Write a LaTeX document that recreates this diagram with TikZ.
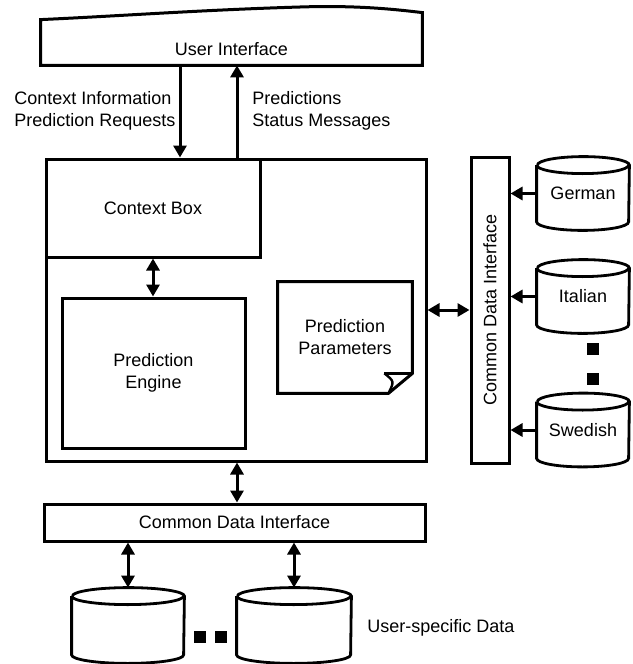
\documentclass[tikz,border=0pt]{standalone}
\usepackage{fontspec}
\setmainfont{Liberation Sans}
\usetikzlibrary{arrows.meta}
\tikzset{
  box/.style={draw,line width=1.5pt,inner sep=0pt},
  db/.style={inner sep=0pt},
  dbline/.style={line width=1.4pt},
  arr/.style={line width=1.5pt,-{Triangle[length=6pt,width=6.5pt]}},
  darr/.style={line width=1.5pt,{Triangle[length=6pt,width=6.5pt]}-{Triangle[length=6pt,width=6.5pt]}},
  blk/.style={fill,minimum size=6pt,inner sep=0pt}
}
\newcommand\drawdb[2]{%
  \draw[dbline] ([yshift=-4.25pt]#1.north west) -- ([yshift=4.25pt]#1.south west)
    arc[start angle=180,end angle=360,x radius=#2,y radius=4.25pt]
    -- ([yshift=-4.25pt]#1.north east)
    arc[start angle=0,end angle=180,x radius=#2,y radius=4.25pt];
  \draw[dbline] ([yshift=-4.25pt]#1.north west)
    arc[start angle=180,end angle=360,x radius=#2,y radius=4.25pt];}
\begin{document}
\begin{tikzpicture}[x=0.5pt,y=-0.5pt,font=\fontsize{9}{11}\selectfont]
\useasboundingbox (0,0) rectangle (632,664);
\node[inner sep=0pt,minimum width=190.5pt,minimum height=16pt] (ui) at (231.5,49) {User Interface};
\draw[line width=1.5pt] (ui.south west) -- ([yshift=6.5pt]ui.north west)
  .. controls (120,16) and (200,10) .. (300,7)
  .. controls (360,5) and (400,10) .. ([yshift=10pt]ui.north east) -- (ui.south east) -- cycle;
\node[box,minimum width=190pt,minimum height=151pt] (main) at (236,310) {};
\node[box,minimum width=107pt,minimum height=49pt] (ctx) at (153,208) {Context Box};
\node[box,minimum width=91.5pt,minimum height=75pt,align=center] (engine) at (153.5,373) {Prediction\\Engine};
\node[inner sep=0pt,minimum width=67pt,minimum height=55.5pt,align=center] (params) at (345,337.5) {Prediction\\Parameters};
\draw[line width=1.5pt] (params.north west) -- (params.north east) -- ([yshift=10pt]params.south east)
  -- ([xshift=-12pt]params.south east) -- (params.south west) -- cycle;
\draw[line width=1.2pt] ([xshift=-14pt,yshift=10pt]params.south east) -- ([yshift=10pt]params.south east);
\draw[line width=1.2pt] ([xshift=-14pt,yshift=10pt]params.south east)
  .. controls ([xshift=-9pt,yshift=6pt]params.south east) .. ([xshift=-12pt]params.south east);
\node[box,rotate=90,minimum width=153pt,minimum height=19pt] (cdiR) at (490,310) {Common Data Interface};
\node[db,minimum width=46pt,minimum height=36.5pt] (german) at (583,193.5) {German};
\node[db,minimum width=46pt,minimum height=36.5pt] (italian) at (583,296.5) {Italian};
\node[db,minimum width=46pt,minimum height=36.5pt] (swedish) at (583,430) {Swedish};
\drawdb{german}{23pt}
\drawdb{italian}{23pt}
\drawdb{swedish}{23pt}
\node[blk] (r1) at (593,348.5) {};
\node[blk] (r2) at (593,378.5) {};
\node[box,minimum width=190.5pt,minimum height=18.5pt] (cdiB) at (234.5,522.5) {Common Data Interface};
\node[db,minimum width=56pt,minimum height=37.5pt] (user1) at (128,625.5) {};
\node[db,minimum width=57pt,minimum height=37.5pt] (user2) at (294,625.5) {};
\drawdb{user1}{28pt}
\drawdb{user2}{28.5pt}
\node[blk] (b1) at (200,637) {};
\node[blk] (b2) at (221,637) {};
\node[anchor=west,inner sep=0pt] (userdata) at (367,628) {User-specific Data};
\node[anchor=west,inner sep=0pt,align=left] (reqs) at (14,111) {Context Information\\Prediction Requests};
\node[anchor=west,inner sep=0pt,align=left] (preds) at (252,111) {Predictions\\Status Messages};
\coordinate (down) at (180,0);
\coordinate (up) at (237,0);
\draw[arr] (ui.south -| down) -- (main.north -| down);
\draw[arr] (main.north -| up) -- (ui.south -| up);
\draw[darr] (ctx.south) -- (ctx.south |- engine.north);
\draw[darr] (main.east) -- (cdiR.north);
\draw[arr] (german.west) -- (german.west -| cdiR.south);
\draw[arr] (italian.west) -- (italian.west -| cdiR.south);
\draw[arr] (swedish.west) -- (swedish.west -| cdiR.south);
\draw[darr] (main.south -| up) -- (cdiB.north -| up);
\draw[darr] (cdiB.south -| user1.north) -- (user1.north);
\draw[darr] (cdiB.south -| user2.north) -- (user2.north);
\end{tikzpicture}
\end{document}
